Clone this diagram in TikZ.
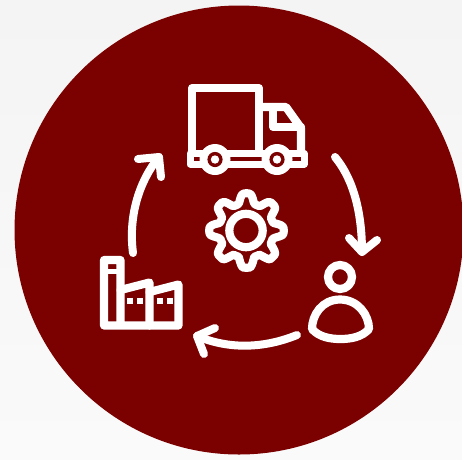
\documentclass[tikz,border=0pt]{standalone}
\definecolor{disc}{HTML}{7B0000}
\definecolor{paperA}{HTML}{F4F4F4}
\definecolor{paperB}{HTML}{FAFAFA}
\tikzset{
  icon/.style={draw=white,line width=8.2pt,line cap=round,line join=round},
  thin icon/.style={icon,line width=5pt},
  flow/.style={draw=white,line width=8pt,line cap=round,line join=round},
}
\begin{document}
\begin{tikzpicture}[x=1pt,y=-1pt]
\useasboundingbox (0,0) rectangle (462,459);
\shade[top color=paperA,bottom color=paperB] (0,0) rectangle (462,459);
\fill[disc] (239,230) circle[radius=224.5];
% truck
\path[icon] (192,153) -- (192,88) -- (259,88) -- (259,153);
\path[icon] (259,107) -- (286,107) -- (301,128) -- (301,153);
\path[icon] (273,107) -- (273,127) -- (301,127);
\path[draw=white,line width=7pt,line cap=round,line join=round,fill=disc]
  (190,153.5) -- (304,153.5) -- (304,164) -- (190,164) -- cycle;
\foreach \wx in {215,277}{
  \fill[white] (\wx,159.5) circle[radius=15.5];
  \fill[disc] (\wx,159.5) circle[radius=7.6];
  \fill[white] (\wx,159.5) circle[radius=4.2];
}
% gear
\path[icon] plot[smooth cycle,samples=97,domain=0:356.25,variable=\t]
  ({246.5+(32.3+4.9*max(-1,min(1,1.5*cos(8*\t))))*sin(\t)},{230.5-(32.3+4.9*max(-1,min(1,1.5*cos(8*\t))))*cos(\t)});
\path[icon] (246,230.5) circle[radius=16.7];
% factory
\path[icon] (120.5,325.5) -- (120.5,260) -- (104,260) -- (104,325.5) -- (178.5,325.5) -- (178.5,284.5) -- (149.5,292);
\path[icon] (120.5,290) -- (149.5,282.5) -- (149.5,325.5);
\path[thin icon,line cap=butt] (104,271.5) -- (120.5,271.5);
\foreach \wx/\wy in {127/298,137/298,157/298,166.5/298}{
  \fill[white] (\wx,\wy) rectangle ++(6,6);
}
% person
\path[icon] (340,277) circle[radius=12];
\path[icon] (340,299.5) .. controls (322,299.5) and (312,315) .. (312,329)
  .. controls (319,337) and (330,339) .. (340.5,339)
  .. controls (351,339) and (362,337) .. (369,329)
  .. controls (369,315) and (358,299.5) .. (340,299.5) -- cycle;
% arrows
\path[flow] (335,157) .. controls (350,175) and (362,205) .. (362,252);
\path[flow] (349,238) -- (362,252) -- (377,240);
\path[flow] (297,335) .. controls (265,348) and (230,350) .. (197,336);
\path[flow] (215,328) -- (197,336) -- (204,354);
\path[flow] (133,253) .. controls (128,215) and (140,180) .. (159,157);
\path[flow] (138,159) -- (159,157) -- (161,177);
\end{tikzpicture}
\end{document}
